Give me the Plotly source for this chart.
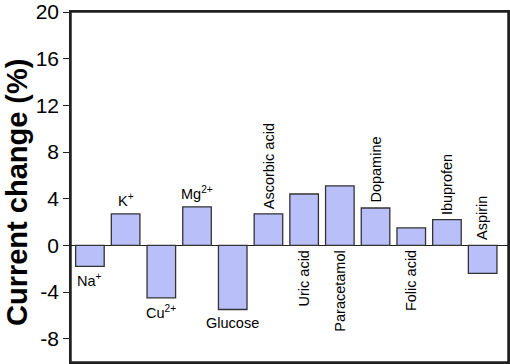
import plotly.graph_objects as go

categories = ["Na+", "K+", "Cu2+", "Mg2+", "Glucose", "Ascorbic acid", "Uric acid",
              "Paracetamol", "Dopamine", "Folic acid", "Ibuprofen", "Aspirin"]
labels = ["Na<sup>+</sup>", "K<sup>+</sup>", "Cu<sup>2+</sup>", "Mg<sup>2+</sup>", "Glucose",
          "Ascorbic acid", "Uric acid", "Paracetamol", "Dopamine", "Folic acid",
          "Ibuprofen", "Aspirin"]
values = [-1.8, 2.7, -4.5, 3.3, -5.5, 2.7, 4.4, 5.1, 3.2, 1.5, 2.2, -2.4]
y_ticks = [-8, -4, 0, 4, 8, 12, 16, 20]
y_minor_ticks = [-10, -6, -2, 2, 6, 10, 14, 18]
y_title = "Current change (%)"

# label placement: (anchor, rotated)
placement = [("bar", False), ("bar", False), ("bar", False), ("bar", False), ("bar", False),
             ("bar", True), ("zero_below", True), ("zero_below", True), ("bar", True),
             ("zero_below", True), ("bar", True), ("zero_above", True)]

FONT = "Arial, Liberation Sans, sans-serif"
LINE = "#222222"

fig = go.Figure()
fig.add_trace(go.Bar(
    x=categories, y=values, width=0.8,
    marker=dict(color="#b9bff9", line=dict(color="#333333", width=1.3)),
))

annotations = []
for cat, lab, v, (anc, rot) in zip(categories, labels, values, placement):
    if anc == "bar":
        y = v
        above = v >= 0
    elif anc == "zero_below":
        y = 0
        above = False
    else:
        y = 0
        above = True
    annotations.append(dict(
        x=cat, y=y, text=lab, showarrow=False,
        textangle=-90 if rot else 0,
        xanchor="center", yanchor="bottom" if above else "top",
        yshift=3 if above else -3,
        font=dict(family=FONT, size=14.5, color="black"),
    ))

# y-axis title as a rotated annotation in the left margin
annotations.append(dict(
    xref="paper", yref="paper", x=0, y=0.5, xanchor="center", yanchor="middle",
    xshift=-54, yshift=-6, textangle=-90, showarrow=False,
    text="<b>" + y_title + "</b>",
    font=dict(family=FONT, size=29, color="black"),
))

fig.update_layout(
    width=510, height=364,
    margin=dict(l=71, r=2, t=12, b=2),
    paper_bgcolor="white", plot_bgcolor="white",
    showlegend=False,
    annotations=annotations,
    font=dict(family=FONT, color="black"),
    shapes=[dict(type="rect", xref="paper", yref="paper", x0=0, x1=1, y0=0, y1=1,
                 line=dict(color=LINE, width=1.5), layer="above")],
    xaxis=dict(
        type="category", range=[-0.53, 11.71],
        showticklabels=False, ticks="",
        showline=True, linecolor=LINE, linewidth=1.5, mirror=True,
        showgrid=False, zeroline=False,
    ),
    yaxis=dict(
        range=[-10, 20], tickmode="array", tickvals=y_ticks,
        ticktext=[str(t) for t in y_ticks],
        ticks="outside", ticklen=6, tickwidth=1.3, tickcolor=LINE,
        tickfont=dict(family=FONT, size=21, color="black"),
        showline=True, linecolor=LINE, linewidth=1.5, mirror=True,
        showgrid=False,
        zeroline=True, zerolinecolor=LINE, zerolinewidth=1.3,
        automargin=False,
    ),
    yaxis2=dict(
        range=[-10, 20], overlaying="y", side="left", anchor="x",
        tickmode="array", tickvals=y_minor_ticks, showticklabels=False,
        ticks="outside", ticklen=3, tickwidth=1.2, tickcolor=LINE,
        showgrid=False, zeroline=False, showline=False,
    ),
)

fig.write_html(
    "out.html",
    config={"displayModeBar": False},
    post_script="document.body.style.margin='0';document.body.style.overflow='hidden';",
)
